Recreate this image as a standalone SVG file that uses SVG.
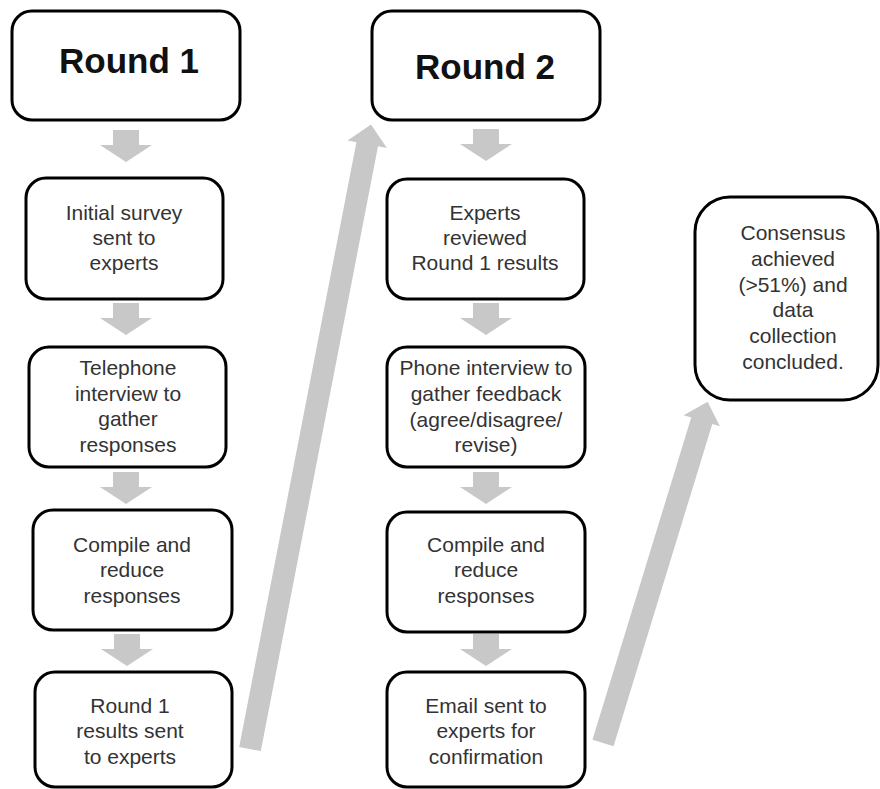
<svg xmlns="http://www.w3.org/2000/svg" xmlns:xlink="http://www.w3.org/1999/xlink" width="880" height="789" viewBox="0 0 880 789">
  <style>
    .box { fill: #ffffff; stroke: #000000; stroke-width: 3; }
    .title { font-family: "Liberation Sans", Arial, sans-serif; font-size: 35px; font-weight: bold; fill: #111111; text-anchor: middle; }
    .label { font-family: "Liberation Sans", Arial, sans-serif; font-size: 21px; fill: #333333; text-anchor: middle; }
    .flow { fill: #c8c8c8; }
  </style>
  <defs>
    <!-- short block arrow pointing down, origin at top centre -->
    <path id="down" d="M-13,0 H13 V15 H26 L0,32 L-26,15 H-13 Z"/>
  </defs>
  <rect width="880" height="789" fill="#ffffff"/>

  <g id="connectors" class="flow">
    <use xlink:href="#down" transform="translate(126,130)"/>
    <use xlink:href="#down" transform="translate(126,303)"/>
    <use xlink:href="#down" transform="translate(126,472)"/>
    <use xlink:href="#down" transform="translate(127,634)"/>
    <use xlink:href="#down" transform="translate(486,129)"/>
    <use xlink:href="#down" transform="translate(486,303)"/>
    <use xlink:href="#down" transform="translate(486,472)"/>
    <use xlink:href="#down" transform="translate(486,634)"/>
    <!-- long slanted arrow: Round 1 results up to Round 2 -->
    <path transform="translate(250,749) rotate(10.97)" d="M-11,0 L11,0 L11,-616 L20,-616 L0,-636 L-20,-616 L-11,-616 Z"/>
    <!-- long slanted arrow: confirmation up to consensus -->
    <path transform="translate(603,743) rotate(17.04)" d="M-11,0 L11,0 L11,-337 L19,-337 L0,-357 L-19,-337 L-11,-337 Z"/>
  </g>

  <g id="round1">
    <rect class="box" x="12" y="11" width="228" height="109" rx="20"/>
    <text class="title" x="129" y="73">Round 1</text>
  </g>
  <g id="initial-survey">
    <rect class="box" x="26" y="178" width="197" height="121" rx="20"/>
    <text class="label" x="124" y="220">Initial survey</text>
    <text class="label" x="124" y="245">sent to</text>
    <text class="label" x="124" y="270">experts</text>
  </g>
  <g id="telephone-interview">
    <rect class="box" x="29" y="347" width="197" height="120" rx="20"/>
    <text class="label" x="128" y="375">Telephone</text>
    <text class="label" x="128" y="401">interview to</text>
    <text class="label" x="128" y="426">gather</text>
    <text class="label" x="128" y="452">responses</text>
  </g>
  <g id="compile-1">
    <rect class="box" x="33" y="510" width="199" height="120" rx="20"/>
    <text class="label" x="132" y="552">Compile and</text>
    <text class="label" x="132" y="577">reduce</text>
    <text class="label" x="132" y="603">responses</text>
  </g>
  <g id="results-sent">
    <rect class="box" x="35" y="672" width="197" height="115" rx="20"/>
    <text class="label" x="130" y="713">Round 1</text>
    <text class="label" x="130" y="738">results sent</text>
    <text class="label" x="130" y="764">to experts</text>
  </g>

  <g id="round2">
    <rect class="box" x="372" y="11" width="228" height="109" rx="20"/>
    <text class="title" x="485" y="79">Round 2</text>
  </g>
  <g id="experts-reviewed">
    <rect class="box" x="387" y="179" width="197" height="120" rx="20"/>
    <text class="label" x="485" y="220">Experts</text>
    <text class="label" x="485" y="245">reviewed</text>
    <text class="label" x="485" y="270">Round 1 results</text>
  </g>
  <g id="phone-interview">
    <rect class="box" x="387" y="347" width="198" height="120" rx="20"/>
    <text class="label" x="486" y="375">Phone interview to</text>
    <text class="label" x="486" y="401">gather feedback</text>
    <text class="label" x="486" y="427">(agree/disagree/</text>
    <text class="label" x="486" y="452">revise)</text>
  </g>
  <g id="compile-2">
    <rect class="box" x="387" y="512" width="198" height="120" rx="20"/>
    <text class="label" x="486" y="552">Compile and</text>
    <text class="label" x="486" y="577">reduce</text>
    <text class="label" x="486" y="603">responses</text>
  </g>
  <g id="email-sent">
    <rect class="box" x="387" y="672" width="198" height="115" rx="20"/>
    <text class="label" x="486" y="713">Email sent to</text>
    <text class="label" x="486" y="738">experts for</text>
    <text class="label" x="486" y="764">confirmation</text>
  </g>

  <g id="consensus">
    <rect class="box" x="695" y="197" width="183" height="203" rx="35"/>
    <text class="label" x="793" y="240">Consensus</text>
    <text class="label" x="793" y="266">achieved</text>
    <text class="label" x="793" y="292">(&gt;51%) and</text>
    <text class="label" x="793" y="317">data</text>
    <text class="label" x="793" y="343">collection</text>
    <text class="label" x="793" y="369">concluded.</text>
  </g>
</svg>
